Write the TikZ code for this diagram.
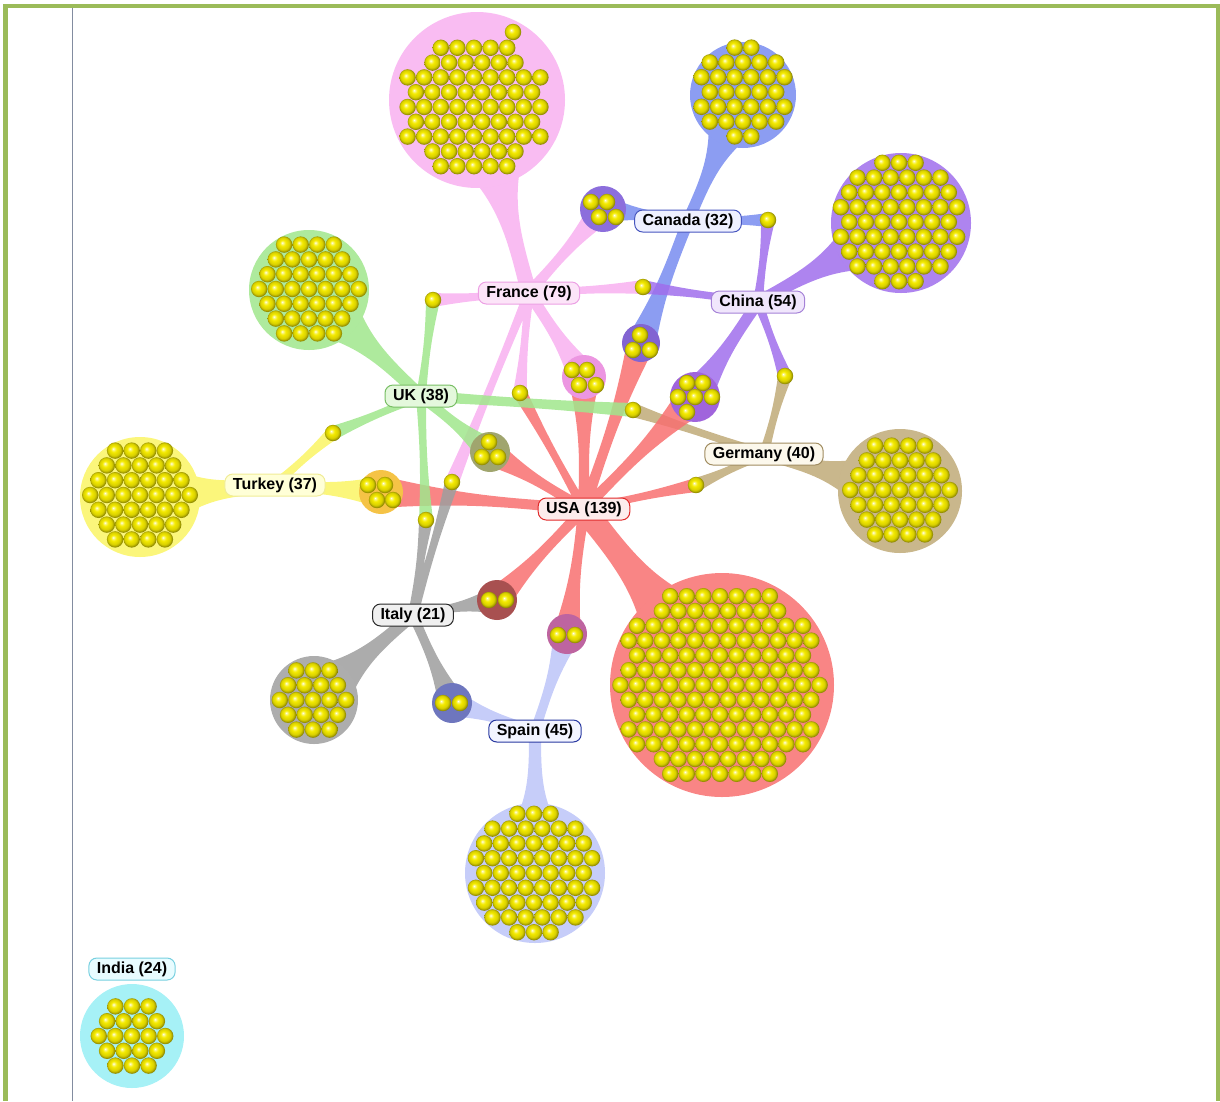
\documentclass[tikz,border=0pt]{standalone}
\usepackage{fontspec}
\setsansfont{Liberation Sans}
\usetikzlibrary{calc}
\pgfdeclarelayer{tubes}
\pgfsetlayers{tubes,main}

\definecolor{frpink}{RGB}{248,176,240}
\definecolor{cablue}{RGB}{120,140,240}
\definecolor{cnpurple}{RGB}{160,110,236}
\definecolor{ukgreen}{RGB}{160,230,140}
\definecolor{tkyellow}{RGB}{250,245,100}
\definecolor{detan}{RGB}{192,170,120}
\definecolor{usred}{RGB}{248,112,112}
\definecolor{itgray}{RGB}{158,158,158}
\definecolor{spblue}{RGB}{188,196,248}
\definecolor{incyan}{RGB}{150,238,245}
\definecolor{ballyellow}{RGB}{245,235,0}
\definecolor{framegreen}{RGB}{155,187,89}
\definecolor{rulegray}{RGB}{130,140,160}

\pgfdeclareradialshading{yball}{\pgfqpoint{-6bp}{6bp}}{%
  color(0bp)=(white); color(3bp)=(ballyellow!45!white);
  color(9bp)=(ballyellow); color(19bp)=(ballyellow!88!black);
  color(28bp)=(ballyellow!45!black); color(40bp)=(ballyellow!45!black)}

% hex packed balls inside a circle: centre x, centre y, radius, rows
\newcommand{\ballgrid}[4]{%
  \foreach \i in {-#4,...,#4}{
    \foreach \j in {-#4,...,#4}{
      \pgfmathsetmacro{\bx}{16.6*\j+8.3*mod(abs(\i),2)}
      \pgfmathsetmacro{\by}{14.8*\i}
      \pgfmathsetmacro{\bd}{veclen(\bx,\by)}
      \ifdim\bd pt<#3pt
        \shade[shading=yball] (#1+\bx,#2+\by) circle[radius=8.2pt];
      \fi
    }}}
\newcommand{\bead}[2]{\shade[shading=yball] (#1,#2) circle[radius=8.2pt];}
% tapered tube from one node to another: widths at start, middle, end
\newcommand{\tube}[5]{%
  ($(#1.center)!#3pt!90:(#2.center)$)
  .. controls ($(#1.center)!0.4!(#2.center)!#4pt!90:(#2.center)$)
  and ($(#1.center)!0.6!(#2.center)!#4pt!90:(#2.center)$)
  .. ($(#2.center)!#5pt!-90:(#1.center)$)
  -- ($(#2.center)!#5pt!90:(#1.center)$)
  .. controls ($(#1.center)!0.6!(#2.center)!#4pt!-90:(#2.center)$)
  and ($(#1.center)!0.4!(#2.center)!#4pt!-90:(#2.center)$)
  .. ($(#1.center)!#3pt!-90:(#2.center)$) -- cycle }

\begin{document}
\begin{tikzpicture}[x=1pt,y=-1pt,
    tag/.style={rectangle,rounded corners=8pt,line width=1pt,
        inner xsep=8pt,inner ysep=2pt,minimum height=22pt,
        font=\sffamily\bfseries\fontsize{16}{18}\selectfont},
    clus/.style={circle,inner sep=0pt},
    bead/.style={circle,inner sep=0pt,minimum size=16.4pt,shade,shading=yball},
    tubefill/.style={fill opacity=0.85}
]
\useasboundingbox (0,0) rectangle (1220,1101);
% frame
\fill[framegreen] (3,4) rectangle (7.5,1101);
\fill[framegreen] (3,4) rectangle (1155,7.5);
\fill[framegreen] (1155,4) rectangle (1220,8);
\fill[framegreen] (1216,4) rectangle (1220,1101);
\draw[rulegray,line width=1.2pt] (72.5,7.5) -- (72.5,1101);

% country clusters
\node[clus,fill=frpink!85!white,minimum size=176pt] (francecl) at (477,100) {};
\ballgrid{474}{107}{73}{5}
\bead{513}{32}
\node[clus,fill=cablue!85!white,minimum size=106pt] (canadacl) at (743,95) {};
\ballgrid{743}{92}{47}{4}
\node[clus,fill=cnpurple!85!white,minimum size=140pt] (chinacl) at (901,223) {};
\ballgrid{899}{222}{62}{5}
\node[clus,fill=ukgreen!85!white,minimum size=120pt] (ukcl) at (309,290) {};
\ballgrid{309}{289}{54}{5}
\node[clus,fill=tkyellow!85!white,minimum size=120pt] (turkeycl) at (140,497) {};
\ballgrid{140}{495}{54}{5}
\node[clus,fill=detan!85!white,minimum size=124pt] (germanycl) at (900,491) {};
\ballgrid{900}{490}{54}{5}
\node[clus,fill=usred!85!white,minimum size=224pt] (usacl) at (722,685) {};
\ballgrid{720}{685}{102}{8}
\node[clus,fill=itgray!85!white,minimum size=88pt] (italycl) at (314,700) {};
\ballgrid{313}{700}{38}{3}
\node[clus,fill=spblue!85!white,minimum size=140pt] (spaincl) at (535,873) {};
\ballgrid{534}{873}{62}{5}
\node[clus,fill=incyan!85!white,minimum size=104pt] (indiacl) at (132,1036) {};
\ballgrid{132}{1036}{44}{4}

% shared clusters
\node[clus,fill={rgb,255:red,140;green,110;blue,220},minimum size=46pt] (fr-ca) at (603,209) {};
\bead{591}{202}\bead{607}{202}\bead{599}{217}\bead{616}{217}
\node[clus,fill={rgb,255:red,130;green,100;blue,210},minimum size=38pt] (ca-us) at (641,343) {};
\bead{640}{335}\bead{633}{350}\bead{650}{350}
\node[clus,fill={rgb,255:red,236;green,150;blue,225},minimum size=44pt] (fr-us) at (584,377) {};
\bead{572}{370}\bead{587}{370}\bead{579}{385}\bead{596}{385}
\node[clus,fill={rgb,255:red,160;green,100;blue,220},minimum size=50pt] (cn-us) at (695,397) {};
\bead{687}{383}\bead{703}{383}\bead{678}{397}\bead{695}{397}\bead{712}{397}\bead{687}{412}
\node[clus,fill={rgb,255:red,160;green,165;blue,110},minimum size=40pt] (uk-us) at (490,452) {};
\bead{489}{442}\bead{482}{457}\bead{498}{457}
\node[clus,fill={rgb,255:red,245;green,195;blue,70},minimum size=44pt] (tk-us) at (381,492) {};
\bead{368}{485}\bead{385}{485}\bead{377}{500}\bead{393}{500}
\node[clus,fill={rgb,255:red,168;green,80;blue,80},minimum size=40pt] (it-us) at (497,600) {};
\bead{489}{600}\bead{506}{600}
\node[clus,fill={rgb,255:red,190;green,100;blue,160},minimum size=40pt] (us-sp) at (567,634) {};
\bead{558}{635}\bead{575}{635}
\node[clus,fill={rgb,255:red,110;green,118;blue,190},minimum size=40pt] (it-sp) at (452,703) {};
\bead{443}{703}\bead{460}{703}

% single shared members
\node[bead] (ca-cn) at (768,220) {};
\node[bead] (fr-cn) at (643,287) {};
\node[bead] (fr-uk) at (433,300) {};
\node[bead] (cn-de) at (785,376) {};
\node[bead] (fr-uk-us) at (520,393) {};
\node[bead] (uk-de) at (633,410) {};
\node[bead] (tk-uk) at (333,433) {};
\node[bead] (fr-it) at (452,482) {};
\node[bead] (uk-it) at (426,520) {};
\node[bead] (us-de) at (696,485) {};

% country labels
\node[tag,fill={rgb,255:red,252;green,228;blue,248},draw={rgb,255:red,236;green,160;blue,228}] (france) at (529,293) {France (79)};
\node[tag,fill={rgb,255:red,238;green,240;blue,255},draw={rgb,255:red,70;green,85;blue,190}] (canada) at (688,221) {Canada (32)};
\node[tag,fill={rgb,255:red,240;green,230;blue,252},draw={rgb,255:red,165;green,130;blue,215}] (china) at (758,302) {China (54)};
\node[tag,fill={rgb,255:red,228;green,248;blue,220},draw={rgb,255:red,120;green,190;blue,100}] (uk) at (421,396) {UK (38)};
\node[tag,fill={rgb,255:red,255;green,255;blue,215},draw={rgb,255:red,240;green,236;blue,150}] (turkey) at (275,485) {Turkey (37)};
\node[tag,fill={rgb,255:red,252;green,248;blue,236},draw={rgb,255:red,160;green,140;blue,96}] (germany) at (764,454) {Germany (40)};
\node[tag,fill={rgb,255:red,253;green,236;blue,236},draw={rgb,255:red,225;green,40;blue,40}] (usa) at (584,509) {USA (139)};
\node[tag,fill={rgb,255:red,240;green,240;blue,240},draw={rgb,255:red,40;green,40;blue,40}] (italy) at (413,615) {Italy (21)};
\node[tag,fill={rgb,255:red,242;green,244;blue,255},draw={rgb,255:red,40;green,56;blue,160}] (spain) at (535,731) {Spain (45)};
\node[tag,fill={rgb,255:red,232;green,252;blue,255},draw={rgb,255:red,120;green,208;blue,224}] (india) at (132,969) {India (24)};

% tubes from each label to its members
\begin{pgfonlayer}{tubes}
\fill[frpink,tubefill] \tube{france}{francecl}{8}{6}{78} \tube{france}{fr-ca}{6}{4}{14}
    \tube{france}{fr-cn}{5}{3}{7} \tube{france}{fr-uk}{5}{3}{7} \tube{france}{fr-us}{6}{5}{16}
    \tube{france}{fr-uk-us}{5}{3}{7} \tube{france}{fr-it}{5}{3}{7};
\fill[cablue,tubefill] \tube{canada}{canadacl}{6}{5}{44} \tube{canada}{fr-ca}{5}{4}{14}
    \tube{canada}{ca-cn}{5}{3}{7} \tube{canada}{ca-us}{6}{5}{15};
\fill[cnpurple,tubefill] \tube{china}{chinacl}{6}{6}{60} \tube{china}{ca-cn}{5}{3}{7}
    \tube{china}{fr-cn}{5}{3}{7} \tube{china}{cn-us}{6}{5}{18} \tube{china}{cn-de}{5}{3}{7};
\fill[detan,tubefill] \tube{germany}{germanycl}{6}{6}{52} \tube{germany}{cn-de}{5}{3}{7}
    \tube{germany}{uk-de}{5}{3}{7} \tube{germany}{us-de}{5}{3}{7};
\fill[usred,tubefill] \tube{usa}{usacl}{12}{10}{100} \tube{usa}{ca-us}{6}{4}{14}
    \tube{usa}{fr-us}{6}{4}{16} \tube{usa}{cn-us}{6}{4}{18} \tube{usa}{fr-uk-us}{5}{3}{7}
    \tube{usa}{uk-us}{6}{4}{14} \tube{usa}{tk-us}{6}{4}{16} \tube{usa}{us-de}{5}{3}{7}
    \tube{usa}{it-us}{6}{4}{14} \tube{usa}{us-sp}{6}{4}{14};
\fill[tkyellow,tubefill] \tube{turkey}{turkeycl}{8}{7}{50} \tube{turkey}{tk-uk}{5}{3}{7}
    \tube{turkey}{tk-us}{6}{5}{16};
\fill[ukgreen,tubefill] \tube{uk}{ukcl}{6}{6}{50} \tube{uk}{fr-uk}{5}{3}{7}
    \tube{uk}{tk-uk}{5}{3}{7} \tube{uk}{uk-us}{6}{4}{14} \tube{uk}{uk-it}{5}{3}{7}
    \tube{uk}{uk-de}{6}{4}{7};
\fill[itgray,tubefill] \tube{italy}{italycl}{6}{6}{38} \tube{italy}{fr-it}{5}{3}{7}
    \tube{italy}{uk-it}{5}{3}{7} \tube{italy}{it-us}{5}{3}{14} \tube{italy}{it-sp}{5}{4}{14};
\fill[spblue,tubefill] \tube{spain}{spaincl}{6}{6}{58} \tube{spain}{it-sp}{5}{4}{14}
    \tube{spain}{us-sp}{5}{4}{14};
\end{pgfonlayer}
\end{tikzpicture}
\end{document}
